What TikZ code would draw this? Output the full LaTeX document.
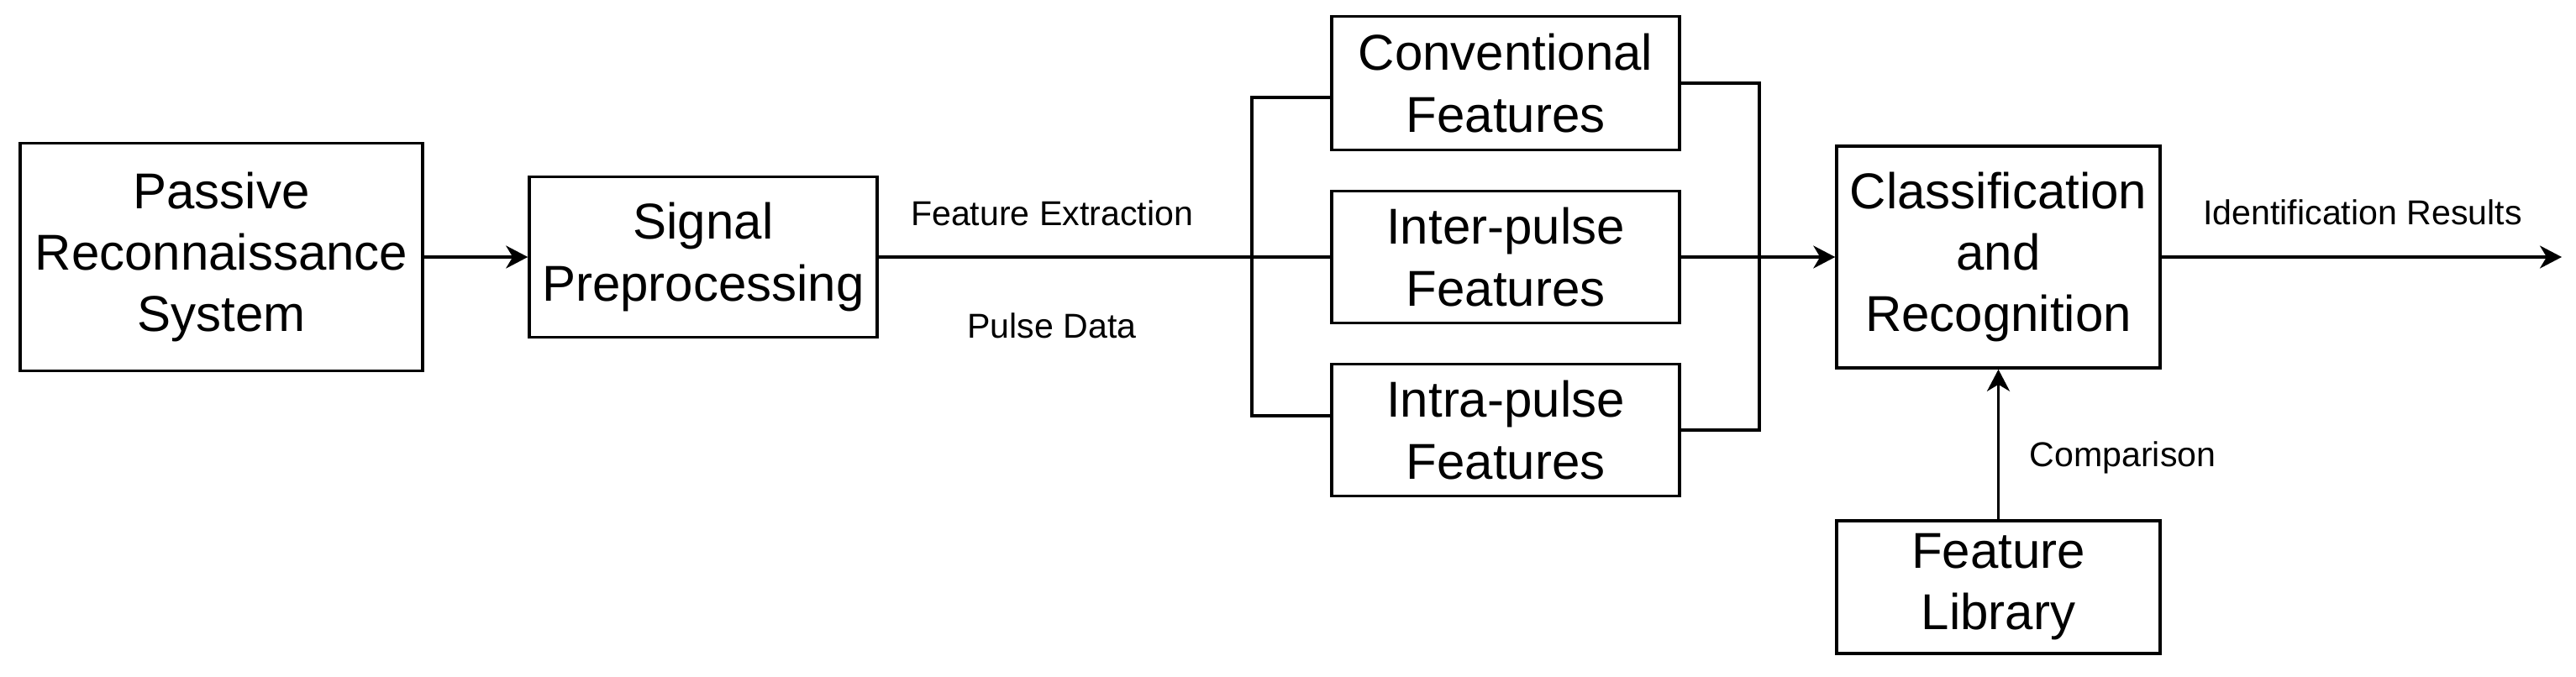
\documentclass[tikz,border=0pt]{standalone}
\usepackage{fontspec}
\setmainfont{Liberation Sans}
\usetikzlibrary{arrows.meta,calc}
\begin{document}
\begin{tikzpicture}[
  box/.style={draw, line width=1pt, align=center, inner sep=0pt,
    font=\fontsize{17.07pt}{20.8pt}\selectfont},
  lbl/.style={font=\fontsize{11.7pt}{14pt}\selectfont, inner sep=0pt, anchor=base},
  conn/.style={line width=1pt},
  arr/.style={line width=1pt, -{Stealth[length=2.6mm,width=2.7mm,inset=0.8mm]}}
]
\useasboundingbox (0,0) rectangle (30.66,-8.05);
\node[box, minimum width=4.79cm, minimum height=2.71cm] (passive) at (2.635,-3.06) {Passive\\Reconnaissance\\System};
\node[box, minimum width=4.14cm, minimum height=1.91cm] (signal) at (8.37,-3.06) {Signal\\Preprocessing};
\node[box, minimum width=4.14cm, minimum height=1.59cm] (conv) at (17.92,-0.99) {Conventional\\Features};
\node[box, minimum width=4.14cm, minimum height=1.57cm] (inter) at (17.92,-3.06) {Inter-pulse\\Features};
\node[box, minimum width=4.14cm, minimum height=1.57cm] (intra) at (17.92,-5.12) {Intra-pulse\\Features};
\node[box, minimum width=3.85cm, minimum height=2.64cm] (classif) at (23.785,-3.06) {Classification\\and\\Recognition};
\node[box, minimum width=3.85cm, minimum height=1.58cm] (lib) at (23.785,-6.99) {Feature\\Library};

\coordinate (bl1) at (14.90,-1.16);
\coordinate (bl2) at (14.90,-4.95);
\coordinate (br) at (20.94,0);
\coordinate (out) at (30.49,-3.06);

\draw[arr] (passive.east) -- (signal.west);
\draw[conn] (signal.east) -- (inter.west);
\draw[conn] (bl1 -| conv.west) -- (bl1) -- (bl2) -- (bl2 -| intra.west);
\draw[conn] (conv.east) -- (conv.east -| br) -- (intra.east -| br) -- (intra.east);
\draw[arr] (inter.east) -- (classif.west);
\draw[arr] (classif.east) -- (out);
\draw[arr] (lib.north) -- (classif.south);

\node[lbl] (fe) at (12.52,-2.68) {Feature Extraction};
\node[lbl] (pd) at (12.52,-4.02) {Pulse Data};
\node[lbl] (ir) at (28.12,-2.67) {Identification Results};
\node[lbl, anchor=base west] (cmp) at (24.15,-5.55) {Comparison};
\end{tikzpicture}
\end{document}
